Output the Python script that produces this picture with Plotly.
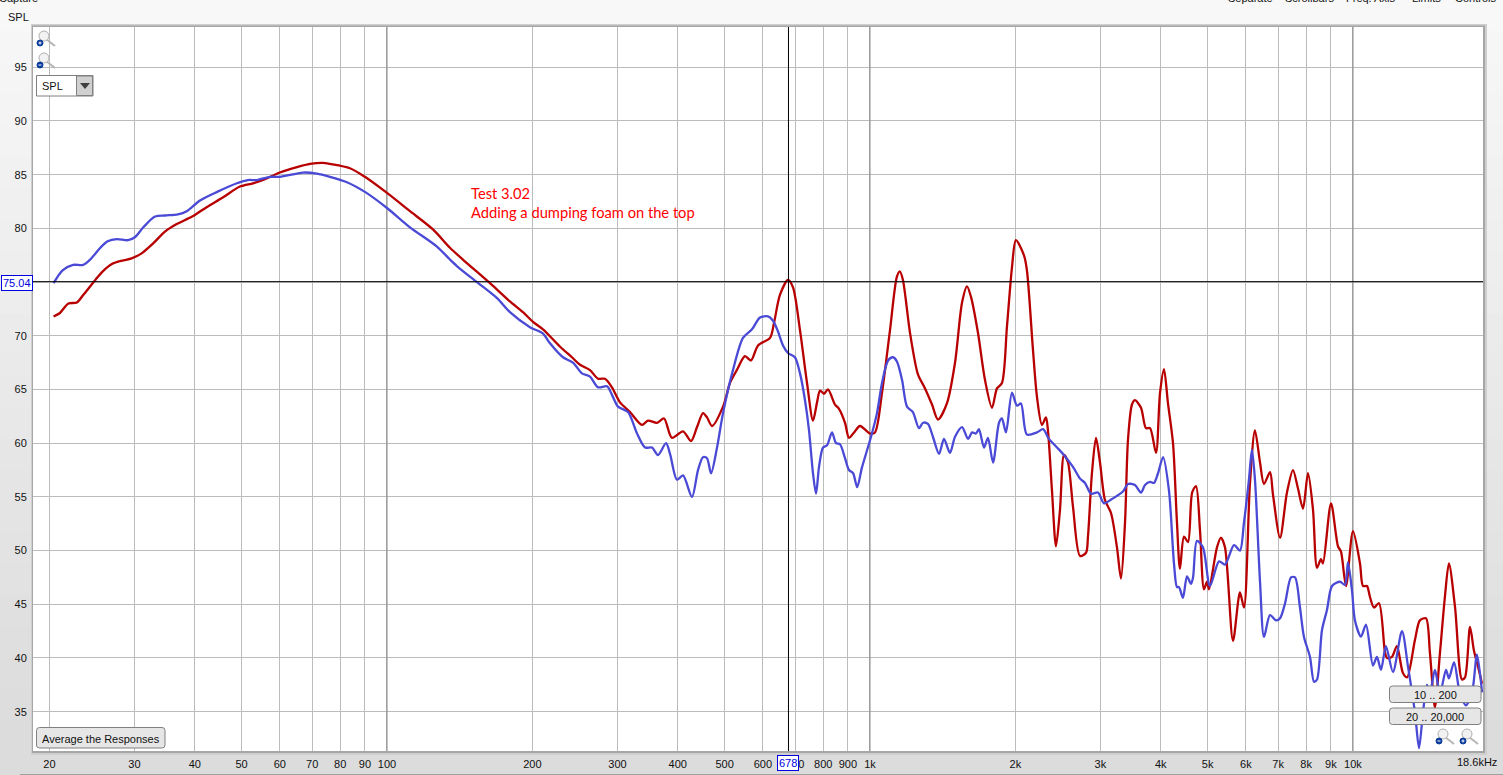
import plotly.graph_objects as go

# ---------- data (Hz, dB SPL) ----------
blue_freq = [20.4,21.3,22.4,23.5,24.3,25.5,26.4,27.6,29.1,30.1,31.3,33.1,34.7,36.9,38.5,41,44.5,48.9,51.5,53.8,57.3,60,67,71.6,76.2,82.6,90,100,111.6,126.9,135,140.3,153.5,169,179.7,
    197.7,210.4,217.5,231.4,242.7,253.3,263.2,273.5,285.5,292.3,300.9,315.5,329.4,342.2,353.7,364,378.2,385.5,398.5,410.1,428,440.5,451.1,459.8,468.7,482.3,496.3,520.4,545.8,569.7,592,615,630,
    645,660.5,676.5,699,716.4,733.6,747.8,762.1,773.2,784.3,799.5,814.7,834.4,850.5,866.8,887.7,904.8,922.7,940.8,962,1005,1034,1059,1090,1116,1137,1165,1193,1227,1263,1288,1318,1350,1390,1423,1464,1500,1551,1596,1627,1657,1681,1722,1755,1798,1850,1876,1912,1968,2015,2054,
    2113,2217,2282,2347,2439,2510,2632,2722,2787,2869,2965,3051,3170,3340,3421,3537,3640,3710,3800,3873,3948,4044,4159,4260,4321,4363,4446,4532,4620,4665,4753,4891,5057,5280,5433,5671,5834,5947,6090,6178,6267,6420,
    6543,6733,6930,7063,7234,7443,7586,7767,7917,8147,8305,8425,8627,8836,9049,9400,9625,9763,9952,10095,10390,10640,11000,11210,11430,11700,12100,12630,13000,13440,13700,13960,14230,14430,14780,15140,15580,15800,16190,16650,17130,17630,18060,18500]
blue_spl = [74.9,76.1,76.6,76.6,77.1,78.2,78.8,79.0,78.9,79.2,80.1,81.1,81.2,81.3,81.6,82.6,83.4,84.2,84.5,84.5,84.8,84.8,85.2,85.1,84.8,84.3,83.4,81.9,80.1,78.3,77.1,76.4,75.0,73.5,72.2,
    70.8,70.2,69.3,68.0,67.5,66.5,66.2,65.2,65.3,64.5,63.4,62.9,60.9,59.6,59.6,58.9,60.0,59.0,56.6,57.0,55.0,57.5,58.7,58.6,57.2,59.6,62.8,66.8,69.8,70.6,71.7,71.8,71.4,
    70.4,69.1,68.4,68.0,66.5,64.0,61.2,57.2,55.3,57.8,59.6,59.8,61.0,60.0,59.9,58.6,57.5,57.2,55.9,57.7,60.6,62.8,65.6,67.7,68.0,67.6,65.9,63.4,62.9,61.4,61.9,61.8,60.6,59.0,60.4,59.1,60.6,61.5,60.4,61.0,60.9,61.3,59.6,60.5,58.2,61.9,62.3,61.0,64.7,63.5,63.7,
    60.8,61.0,61.3,60.4,59.6,59.0,57.8,56.7,56.3,55.3,55.4,54.4,54.8,55.5,56.2,56.1,55.4,56.1,56.4,56.3,57.2,58.7,55.6,48.8,46.6,46.6,45.6,47.6,46.9,47.5,50.9,50.3,46.7,49.0,48.7,50.5,50.0,52.6,56.6,59.4,56.6,47.1,
    41.96,44.0,43.5,43.7,45.1,47.5,47.5,44.7,41.96,40.1,37.8,38.0,42.6,44.5,46.7,47.1,46.8,48.9,46.3,43.5,42.0,43.1,39.3,40.1,38.9,41.1,38.7,42.5,39.2,34.9,31.6,34.9,37.5,36.7,38.9,36.7,38.9,38.1,39.6,36.7,35.6,36.7,40.3,36.8]

red_freq = [20.4,21,21.9,22.8,23.5,24.9,25.8,27,28.3,29.6,31.1,32.8,34.7,36.7,39.5,42.4,45.8,49.6,52.8,55.4,60,65.1,69.3,73.7,76.2,83.8,90,100,111.6,124.5,135,143.6,163.4,179.7,191.2,200.6,210.4,228,
    241.5,251,263.2,273.5,282.7,292.3,303.7,318.5,337.3,347,362.2,374.6,389,410.1,426,438.4,451.1,459.8,471,496.3,513,530,551,567,586.4,620.9,
    632.9,651,676.5,692.8,716.4,740.7,762.1,776.9,788,803,818.5,846.4,862.6,887.7,904.8,926.8,953.5,1000,1024,1059,1100,1137,1153,1170,1210,1257,1300,1344,1383,1443,1500,1551,1588,1619,1673,1730,1789,1832,1876,1921,1968,2005,2083,2113,2175,
    2217,2270,2314,2336,2381,2427,2474,2522,2570,2632,2722,2801,2827,2881,2937,2994,3066,3155,3246,3309,3373,3421,3487,3537,3640,3727,3800,3910,3986,4062,4140,4240,4321,4383,4468,4555,4645,4732,4822,4915,4986,5034,5229,5330,5433,5644,5834,5947,6120,6267,6420,
    6543,6733,6830,7063,7300,7512,7692,7880,8070,8265,8425,8585,8667,9006,9311,9445,9672,10000,10340,10490,10690,10840,11050,11320,11650,11760,12040,12330,12690,12940,13440,13760,14160,14430,14780,15140,15500,15800,16270,16810,17060,17470,17800,18150,18500]
red_spl = [71.8,72.1,73.0,73.1,73.8,75.2,76.0,76.7,77.0,77.2,77.7,78.6,79.7,80.4,81.1,82.0,82.9,83.9,84.2,84.5,85.2,85.7,86.0,86.1,86.0,85.6,84.8,83.3,81.6,79.9,78.2,77.1,74.9,73.2,72.2,71.3,70.6,69.0,
    68.0,67.3,66.8,66.0,66.0,65.2,63.8,62.9,61.7,62.1,61.9,62.3,60.5,61.1,60.2,61.5,62.8,62.4,61.6,63.4,65.6,66.8,68.1,67.7,69.1,69.8,
    71.2,73.8,75.2,74.5,70.5,65.6,62.1,63.8,64.9,64.6,65.0,63.6,63.2,61.9,60.5,61.0,61.6,60.9,61.0,64.7,70.5,75.5,76.0,75.2,70.3,66.4,65.1,63.6,62.2,63.7,67.5,73.1,74.6,73.6,70.3,65.9,63.3,65.1,65.6,70.8,76.4,78.9,77.5,76.1,68.7,
    64.3,61.7,62.4,61.2,55.6,50.4,53.8,58.9,58.2,54.1,49.5,49.8,51.3,57.2,60.5,58.2,54.7,53.5,50.3,47.4,52.6,60.3,63.6,64.0,63.3,61.4,61.4,59.1,64.7,66.9,63.7,60.0,52.6,48.3,51.3,50.8,55.4,56.0,51.9,46.4,47.1,46.4,50.3,51.2,50.3,41.6,46.1,44.7,56.3,61.2,58.2,
    56.2,57.3,55.2,51.2,55.4,57.5,55.8,53.9,57.2,53.8,48.4,49.2,48.8,54.4,50.4,49.9,46.7,51.8,48.8,46.7,46.7,45.7,44.7,45.1,40.5,40.0,40.1,41.1,38.6,38.2,41.7,43.5,43.7,40.5,35.4,40.5,45.7,48.8,44.7,38.0,38.2,42.9,40.7,39.2,37.6]

x_ticks = [20,30,40,50,60,70,80,90,100,200,300,400,500,600,700,800,900,1000,2000,3000,4000,5000,6000,7000,8000,9000,10000]
x_labels = ["20","30","40","50","60","70","80","90","100","200","300","400","500","600","700","800","900","1k","2k","3k","4k","5k","6k","7k","8k","9k","10k"]
y_ticks = [35,40,45,50,55,60,65,70,75,80,85,90,95]
y_labels = ["35","40","45","50","55","60","65","70","","80","85","90","95"]
decades = [100,1000,10000]
cursor_freq = 678
cursor_spl = 75.04
note_lines = ["Test 3.02", "Adding a dumping foam on the top"]
top_menu = ["Separate","Scrollbars","Freq. Axis","Limits","Controls"]

# ---------- layout geometry ----------
W, H = 1503, 775
L, R, T, B = 33, 1483, 27, 751
def px(x): return (x - L) / (R - L)
def py(y): return (B - y) / (B - T)
X_RANGE = [1.2671, 4.2692]
Y_RANGE = [31.34, 98.75]
FONT = "Liberation Sans"

fig = go.Figure()
for d in decades:
    fig.add_trace(go.Scatter(x=[d, d], y=Y_RANGE, mode="lines", line=dict(color="#858585", width=1), hoverinfo="skip"))
fig.add_trace(go.Scatter(x=red_freq, y=red_spl, mode="lines", name="Red",
                         line=dict(color="#b80000", width=2.3, shape="spline", smoothing=0.8)))
fig.add_trace(go.Scatter(x=blue_freq, y=blue_spl, mode="lines", name="Blue",
                         line=dict(color="#4a4ad6", width=2.3, shape="spline", smoothing=0.8)))
fig.add_trace(go.Scatter(x=[cursor_freq, cursor_freq], y=Y_RANGE, mode="lines", line=dict(color="#000000", width=1), hoverinfo="skip"))
fig.add_trace(go.Scatter(x=[10**X_RANGE[0], 10**X_RANGE[1]], y=[cursor_spl, cursor_spl], mode="lines", line=dict(color="#000000", width=1), hoverinfo="skip"))

shapes = []
def rect(x0, y0, x1, y1, fill, line=None, layer="below", lw=1):
    shapes.append(dict(type="rect", xref="paper", yref="paper", x0=px(x0), x1=px(x1), y0=py(y0), y1=py(y1),
                       fillcolor=fill, line=dict(color=line or "rgba(0,0,0,0)", width=lw if line else 0), layer=layer))
def rrect(x0, y0, x1, y1, fill, line, r=3):
    X0, X1, Y0, Y1 = px(x0), px(x1), py(y0), py(y1)
    rx, ry = r / (R - L), r / (B - T)
    path = (f"M {X0+rx} {Y0} L {X1-rx} {Y0} Q {X1} {Y0} {X1} {Y0-ry} L {X1} {Y1+ry} Q {X1} {Y1} {X1-rx} {Y1} "
            f"L {X0+rx} {Y1} Q {X0} {Y1} {X0} {Y1+ry} L {X0} {Y0-ry} Q {X0} {Y0} {X0+rx} {Y0} Z")
    shapes.append(dict(type="path", xref="paper", yref="paper", path=path, fillcolor=fill,
                       line=dict(color=line, width=1), layer="above"))
def seg(x0, y0, x1, y1, color, w=1, layer="above"):
    shapes.append(dict(type="line", xref="paper", yref="paper", x0=px(x0), x1=px(x1), y0=py(y0), y1=py(y1),
                       line=dict(color=color, width=w), layer=layer))
def circle(cx, cy, r, fill, line):
    shapes.append(dict(type="circle", xref="paper", yref="paper", x0=px(cx-r), x1=px(cx+r), y0=py(cy+r), y1=py(cy-r),
                       fillcolor=fill, line=dict(color=line, width=1), layer="above"))
def magnifier(x, y, plus):
    seg(x + 8, y + 8, x + 17, y + 15, "#b5b5b5", 2)
    circle(x + 6, y + 5, 5, "#f2f2f2", "#b0b0b0")
    circle(x + 2, y + 12, 3, "#0a3a9a", "#0a3a9a")
    seg(x + 0.5, y + 12, x + 3.5, y + 12, "#ffffff", 1)
    if plus:
        seg(x + 2, y + 10.5, x + 2, y + 13.5, "#ffffff", 1)

# window background as soft vertical shading
bands = 24
for i in range(bands):
    v = int(248 - (248 - 220) * i / (bands - 1))
    rect(0, i * 752 / bands, W, (i + 1) * 752 / bands + 1, f"rgb({v},{v},{v})")
rect(0, 752, W, H, "#dcdcdc")
seg(20, 774.5, W, 774.5, "#a0a0a0", 1, "below")
rect(31, 24, 1487, 755, "#cfcfcf")
rect(32, 25.5, 1485, 753, "#a6a6a6")
rect(L, T, R, B, "#ffffff")

# widgets
magnifier(38, 31, True)
magnifier(38, 53, False)
rect(36.5, 75.5, 93, 96, "#ffffff", "#808080", "above")
rect(76.5, 76, 92.5, 95.5, "#d0d0d0", "#808080", "above")
shapes.append(dict(type="path", xref="paper", yref="paper", layer="above", fillcolor="#404040", line=dict(width=0),
                   path=f"M {px(80)} {py(83)} L {px(90)} {py(83)} L {px(85)} {py(89)} Z"))
rrect(36.5, 727.5, 165, 748, "#e6e6e6", "#808080")
rrect(1389.5, 686, 1481, 702.5, "#e6e6e6", "#808080")
rrect(1389.5, 708, 1481, 724.5, "#e6e6e6", "#808080")
magnifier(1437, 729, False)
magnifier(1461, 729, True)

def text(x, y, s, size=11, color="#111111", family=FONT, anchor="center"):
    return dict(xref="paper", yref="paper", x=px(x), y=py(y), text=s, showarrow=False, xanchor=anchor, yanchor="middle",
                font=dict(family=family, size=size, color=color))

annotations = [
    text(468.5, 193, note_lines[0], 14.7, "#ff0000", "Lato", "left"),
    text(468.5, 212, note_lines[1], 14.7, "#ff0000", "Lato", "left"),
    text(18.5, 17, "SPL", 11),
    text(52, 86, "SPL", 11),
    text(100.5, 739, "Average the Responses", 11),
    text(1435, 695, "10 .. 200", 11),
    text(1435, 717, "20 .. 20,000", 11),
    text(1477, 762, "18.6kHz", 11),
    text(18, -2, "Capture", 11),
]
for s, cx in zip(top_menu, [1250.5, 1309, 1370.5, 1426, 1475.5]):
    annotations.append(text(cx, -2, s, 11))
annotations.append(dict(xref="paper", yref="paper", x=px(16.5), y=py(282.5), text="75.04", showarrow=False, xanchor="center", yanchor="middle",
                        font=dict(family=FONT, size=11, color="#0000e0"), bgcolor="#ffffff", bordercolor="#0000e0", borderwidth=1, borderpad=1))
annotations.append(dict(xref="paper", yref="paper", x=px(787.5), y=py(763), text="678", showarrow=False, xanchor="center", yanchor="middle",
                        font=dict(family=FONT, size=11, color="#0000e0"), bgcolor="#ffffff", bordercolor="#0000e0", borderwidth=1, borderpad=1))

fig.update_layout(
    width=W, height=H, showlegend=False,
    margin=dict(l=L, r=W - R, t=T, b=H - B, pad=0, autoexpand=False),
    paper_bgcolor="#efefef", plot_bgcolor="#ffffff",
    shapes=shapes, annotations=annotations,
    font=dict(family=FONT, size=11, color="#111111"),
    xaxis=dict(type="log", range=X_RANGE, tickmode="array", tickvals=x_ticks, ticktext=x_labels,
               showgrid=True, gridcolor="#bcbcbc", gridwidth=1, zeroline=False, showline=False,
               ticks="outside", ticklen=3, tickcolor="rgba(0,0,0,0)", tickangle=0,
               tickfont=dict(family=FONT, size=11, color="#111111")),
    yaxis=dict(range=Y_RANGE, tickmode="array", tickvals=y_ticks, ticktext=y_labels,
               showgrid=True, gridcolor="#bcbcbc", gridwidth=1, zeroline=False, showline=False,
               ticks="outside", ticklen=3, tickcolor="rgba(0,0,0,0)",
               tickfont=dict(family=FONT, size=11, color="#111111")),
)

fig.write_html("out.html", config=dict(displayModeBar=False),
               post_script="document.body.style.margin='0';document.body.style.overflow='hidden';")
